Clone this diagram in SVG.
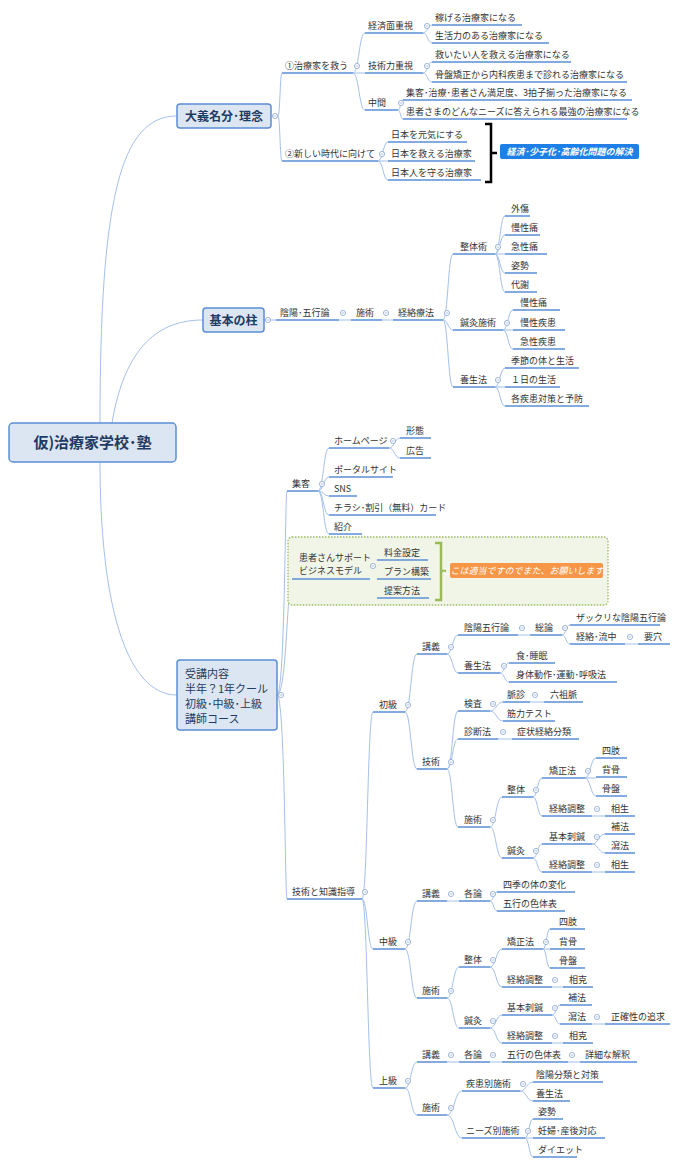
<svg xmlns="http://www.w3.org/2000/svg" xmlns:xlink="http://www.w3.org/1999/xlink" width="680" height="1166" viewBox="0 0 680 1166">
<style>
.t{font-family:"Noto Sans CJK JP","Liberation Sans",sans-serif;font-size:9px;fill:#333}
.u{stroke:#5b8fd6;stroke-width:1.5;fill:none}
.k{stroke:#a4c0ea;stroke-width:1;fill:none}
.box{fill:#dce6f2;stroke:#5b8fd6;stroke-width:1.5}
.bt{font-family:"Noto Sans CJK JP","Liberation Sans",sans-serif;font-weight:bold;fill:#1f3b63}
.lt{font-family:"Noto Sans CJK JP","Liberation Sans",sans-serif;font-size:9px;font-style:italic;font-weight:bold;fill:#fff}
</style>
<defs>
<g id="c"><circle r="2.6" fill="#fff" stroke="#8aa6d6" stroke-width="0.8"/><path d="M-1.4 0H1.4" stroke="#8aa6d6" stroke-width="0.7"/></g>
</defs>
<rect width="680" height="1166" fill="#fff"/>
<g id="connectors">
<path class="k" d="M100 423C100 200 120 116 177 116"/>
<path class="k" d="M112 423C125 345 160 320 203 320"/>
<path class="k" d="M100 462C100 600 125 695 177 695"/>
<path class="k" d="M278 116C280 116 280 73 282 73M278 116C280 116 280 161 282 161"/>
<path class="k" d="M353 73C359 73 359 33 365 33M353 73H365M353 73C359 73 359 110 365 110"/>
<path class="k" d="M423 33C427.5 33 427.5 25 432 25M423 33C427.5 33 427.5 43 432 43M423 73C427.5 73 427.5 62 432 62M423 73C427.5 73 427.5 82 432 82"/>
<path class="k" d="M398 110C400.5 110 400.5 100 403 100M398 110C400.5 110 400.5 119 403 119"/>
<path class="k" d="M378 161C383 161 383 142 388 142M378 161H388M378 161C383 161 383 180 388 180"/>
<path class="k" d="M264 320H276M339 320H351M382 320H393"/>
<path class="k" d="M443 320C448 320 448 254 453 254M443 320C448 320 448 330 453 330M443 320C448 320 448 387 453 387"/>
<path class="k" d="M495 254C500 254 500 216 505 216M495 254C500 254 500 235 505 235M495 254H505M495 254C500 254 500 273 505 273M495 254C500 254 500 292 505 292"/>
<path class="k" d="M503 330C508 330 508 310 513 310M503 330H513M503 330C508 330 508 349 513 349"/>
<path class="k" d="M495 387C500 387 500 368 505 368M495 387H505M495 387C500 387 500 406 505 406"/>
<path class="k" d="M277 695C285 695 285 491 287 491M277 695C287 695 287 579 292 579M277 695C285 695 285 899 287 899"/>
<path class="k" d="M318 491C323.5 491 323.5 448 329 448M318 491C323.5 491 323.5 477 329 477M318 491C323.5 491 323.5 496 329 496M318 491C323.5 491 323.5 515 329 515M318 491C323.5 491 323.5 534 329 534"/>
<path class="k" d="M389 448C394.5 448 394.5 438 400 438M389 448C394.5 448 394.5 458 400 458"/>
<path class="k" d="M370 579C373.5 579 373.5 560 377 560M370 579H377M370 579C373.5 579 373.5 598 377 598"/>
<path class="k" d="M362 899C367.5 899 367.5 712 373 712M362 899C367.5 899 367.5 949 373 949M362 899C367.5 899 367.5 1088 373 1088"/>
<path class="k" d="M405 712C411 712 411 654 417 654M405 712C411 712 411 769 417 769"/>
<path class="k" d="M447 654C452.5 654 452.5 635 458 635M447 654C452.5 654 452.5 673 458 673M518 635H530M562 635C566 635 566 625 570 625M562 635C566 635 566 644 570 644M625 644H638"/>
<path class="k" d="M500 673C504.5 673 504.5 663 509 663M500 673C504.5 673 504.5 682 509 682"/>
<path class="k" d="M447 769C452.5 769 452.5 711 458 711M447 769C452.5 769 452.5 739 458 739M447 769C452.5 769 452.5 827 458 827"/>
<path class="k" d="M490 711C496.5 711 496.5 702 503 702M490 711C496.5 711 496.5 721 503 721M530 702H544M498 739H512"/>
<path class="k" d="M490 827C496 827 496 797 502 797M490 827C496 827 496 858 502 858"/>
<path class="k" d="M533 797C537.5 797 537.5 778 542 778M533 797C537.5 797 537.5 816 542 816M592 816H605"/>
<path class="k" d="M585 778C590.5 778 590.5 758 596 758M585 778H596M585 778C590.5 778 590.5 796 596 796"/>
<path class="k" d="M533 858C537.5 858 537.5 844 542 844M533 858C537.5 858 537.5 872 542 872M592 872H605"/>
<path class="k" d="M592 844C598.5 844 598.5 834 605 834M592 844C598.5 844 598.5 853 605 853"/>
<path class="k" d="M405 949C411 949 411 901 417 901M405 949C411 949 411 998 417 998M447 901H459"/>
<path class="k" d="M490 901C493.5 901 493.5 892 497 892M490 901C493.5 901 493.5 911 497 911"/>
<path class="k" d="M447 998C453 998 453 967 459 967M447 998C453 998 453 1028 459 1028"/>
<path class="k" d="M490 967C496 967 496 949 502 949M490 967C496 967 496 987 502 987M552 987H563"/>
<path class="k" d="M543 949C546.5 949 546.5 929 550 929M543 949H550M543 949C546.5 949 546.5 968 550 968"/>
<path class="k" d="M490 1028C496 1028 496 1015 502 1015M490 1028C496 1028 496 1043 502 1043M552 1043H563"/>
<path class="k" d="M552 1015C556 1015 556 1005 560 1005M552 1015C556 1015 556 1024 560 1024M592 1024H605"/>
<path class="k" d="M405 1088C411 1088 411 1062 417 1062M405 1088C411 1088 411 1115 417 1115M447 1062H459M490 1062H502M568 1062H580"/>
<path class="k" d="M447 1115C454.5 1115 454.5 1091 462 1091M447 1115C454.5 1115 454.5 1138 462 1138"/>
<path class="k" d="M520 1091C526.5 1091 526.5 1082 533 1082M520 1091C526.5 1091 526.5 1101 533 1101"/>
<path class="k" d="M525 1138C529 1138 529 1119 533 1119M525 1138H533M525 1138C529 1138 529 1157 533 1157"/>
</g>

<g id="root"><rect class="box" x="9" y="423" width="167" height="39" rx="4" stroke-width="2"/><text class="bt" x="92.5" y="448" font-size="15" text-anchor="middle">仮)治療家学校･塾</text></g>

<g id="taigi"><rect class="box" x="177" y="104" width="94" height="24" rx="3"/><text class="bt" x="224" y="121" font-size="12" text-anchor="middle">大義名分･理念</text><use xlink:href="#c" x="275" y="116"/></g>
<g id="a1"><text class="t" x="285" y="69">①治療家を救う</text><path class="u" d="M282 73H353"/><use xlink:href="#c" x="357" y="66"/></g>
<g id="a2"><text class="t" x="285" y="157">②新しい時代に向けて</text><path class="u" d="M282 161H378"/><use xlink:href="#c" x="382" y="154"/></g>
<g id="b1"><text class="t" x="368" y="29">経済面重視</text><path class="u" d="M365 33H423"/><use xlink:href="#c" x="427" y="26"/></g>
<g id="b2"><text class="t" x="368" y="69">技術力重視</text><path class="u" d="M365 73H423"/><use xlink:href="#c" x="427" y="66"/></g>
<g id="b3"><text class="t" x="368" y="106">中間</text><path class="u" d="M365 110H398"/><use xlink:href="#c" x="401" y="103"/></g>
<g id="b1a"><text class="t" x="435" y="21">稼げる治療家になる</text><path class="u" d="M432 25H522"/></g>
<g id="b1b"><text class="t" x="435" y="39">生活力のある治療家になる</text><path class="u" d="M432 43H549"/></g>
<g id="b2a"><text class="t" x="435" y="58">救いたい人を救える治療家になる</text><path class="u" d="M432 62H571"/></g>
<g id="b2b"><text class="t" x="435" y="78">骨盤矯正から内科疾患まで診れる治療家になる</text><path class="u" d="M432 82H627"/></g>
<g id="b3a"><text class="t" x="406" y="96">集客･治療･患者さん満足度、3拍子揃った治療家になる</text><path class="u" d="M403 100H632"/></g>
<g id="b3b"><text class="t" x="406" y="115">患者さまのどんなニーズに答えられる最強の治療家になる</text><path class="u" d="M403 119H627"/></g>
<g id="a2a"><text class="t" x="391" y="138">日本を元気にする</text><path class="u" d="M388 142H467"/></g>
<g id="a2b"><text class="t" x="391" y="157">日本を救える治療家</text><path class="u" d="M388 161H475"/></g>
<g id="a2c"><text class="t" x="391" y="176">日本人を守る治療家</text><path class="u" d="M388 180H481"/></g>
<g id="bracket1"><path d="M485 124H491V182H485M491 153H497" stroke="#000" stroke-width="2.5" fill="none"/></g>
<g id="label1"><rect x="500" y="144" width="139" height="15" rx="2" fill="#1e80e6"/><text class="lt" x="569.5" y="155" text-anchor="middle">経済･少子化･高齢化問題の解決</text></g>

<g id="kihon"><rect class="box" x="203" y="308" width="61" height="24" rx="3"/><text class="bt" x="233.5" y="325" font-size="12" text-anchor="middle">基本の柱</text><use xlink:href="#c" x="268" y="320"/></g>
<g id="c1"><text class="t" x="280" y="316">陰陽･五行論</text><path class="u" d="M276 320H339"/><use xlink:href="#c" x="343" y="313"/></g>
<g id="c2"><text class="t" x="356" y="316">施術</text><path class="u" d="M351 320H382"/><use xlink:href="#c" x="386" y="313"/></g>
<g id="c3"><text class="t" x="398" y="316">経絡療法</text><path class="u" d="M393 320H443"/><use xlink:href="#c" x="447" y="313"/></g>
<g id="c3a"><text class="t" x="460" y="250">整体術</text><path class="u" d="M453 254H495"/><use xlink:href="#c" x="498" y="247"/></g>
<g id="c3b"><text class="t" x="460" y="326">鍼灸施術</text><path class="u" d="M453 330H503"/><use xlink:href="#c" x="507" y="323"/></g>
<g id="c3c"><text class="t" x="460" y="383">養生法</text><path class="u" d="M453 387H495"/><use xlink:href="#c" x="498" y="380"/></g>
<g id="s1"><text class="t" x="511" y="212">外傷</text><path class="u" d="M505 216H530"/></g>
<g id="s2"><text class="t" x="511" y="231">慢性痛</text><path class="u" d="M505 235H540"/></g>
<g id="s3"><text class="t" x="511" y="250">急性痛</text><path class="u" d="M505 254H547"/></g>
<g id="s4"><text class="t" x="511" y="269">姿勢</text><path class="u" d="M505 273H537"/></g>
<g id="s5"><text class="t" x="511" y="288">代謝</text><path class="u" d="M505 292H537"/></g>
<g id="h1"><text class="t" x="520" y="306">慢性痛</text><path class="u" d="M513 310H560"/></g>
<g id="h2"><text class="t" x="520" y="326">慢性疾患</text><path class="u" d="M513 330H565"/></g>
<g id="h3"><text class="t" x="520" y="345">急性疾患</text><path class="u" d="M513 349H565"/></g>
<g id="y1"><text class="t" x="511" y="364">季節の体と生活</text><path class="u" d="M505 368H579"/></g>
<g id="y2"><text class="t" x="511" y="383">１日の生活</text><path class="u" d="M505 387H560"/></g>
<g id="y3"><text class="t" x="511" y="402">各疾患対策と予防</text><path class="u" d="M505 406H589"/></g>

<g id="juko"><rect class="box" x="177" y="660" width="100" height="70" rx="3"/><text class="t" font-size="11" fill="#1f3b63" style="font-size:11px;fill:#1f3b63"><tspan x="185" y="678">受講内容</tspan><tspan x="185" y="693">半年？1年クール</tspan><tspan x="185" y="708">初級･中級･上級</tspan><tspan x="185" y="723">講師コース</tspan></text><use xlink:href="#c" x="281" y="695"/></g>
<g id="d1"><text class="t" x="292" y="487">集客</text><path class="u" d="M287 491H318"/><use xlink:href="#c" x="322" y="484"/></g>
<g id="d1a"><text class="t" x="334" y="444">ホームページ</text><path class="u" d="M329 448H389"/><use xlink:href="#c" x="393" y="441"/></g>
<g id="d1b"><text class="t" x="334" y="473">ポータルサイト</text><path class="u" d="M329 477H393"/></g>
<g id="d1c"><text class="t" x="334" y="492">SNS</text><path class="u" d="M329 496H357"/></g>
<g id="d1d"><text class="t" x="334" y="511">チラシ･割引（無料）カード</text><path class="u" d="M329 515H436"/></g>
<g id="d1e"><text class="t" x="334" y="530">紹介</text><path class="u" d="M329 534H362"/></g>
<g id="d1a1"><text class="t" x="406" y="434">形態</text><path class="u" d="M400 438H431"/></g>
<g id="d1a2"><text class="t" x="406" y="454">広告</text><path class="u" d="M400 458H431"/></g>
<g id="greenbox"><rect x="288" y="537" width="320" height="68" rx="4" fill="#f1f5e8" stroke="#9bbb59" stroke-width="1.3" stroke-dasharray="1.5 1.5"/></g>
<g id="d2"><text class="t"><tspan x="299" y="561">患者さんサポート</tspan><tspan x="299" y="574">ビジネスモデル</tspan></text><path class="u" d="M292 579H370"/><use xlink:href="#c" x="373" y="566"/></g>
<g id="d2a"><text class="t" x="384" y="556">料金設定</text><path class="u" d="M377 560H428"/></g>
<g id="d2b"><text class="t" x="384" y="575">プラン構築</text><path class="u" d="M377 579H431"/></g>
<g id="d2c"><text class="t" x="384" y="594">提案方法</text><path class="u" d="M377 598H429"/></g>
<g id="bracket2"><path d="M435 543H441V600H435M441 571H446" stroke="#9bbb59" stroke-width="2.5" fill="none"/></g>
<g id="label2"><rect x="450" y="563" width="153" height="15" rx="2" fill="#f79646"/><text class="lt" x="526.5" y="574" text-anchor="middle" font-weight="normal" style="font-weight:normal">ここは適当ですのでまた、お願いします。</text></g>
<g id="d3"><text class="t" x="292" y="895">技術と知識指導</text><path class="u" d="M287 899H362"/><use xlink:href="#c" x="365" y="892"/></g>

<g id="e1"><text class="t" x="379" y="708">初級</text><path class="u" d="M373 712H405"/><use xlink:href="#c" x="408" y="705"/></g>
<g id="e1a"><text class="t" x="422" y="650">講義</text><path class="u" d="M417 654H447"/><use xlink:href="#c" x="451" y="647"/></g>
<g id="e1a1"><text class="t" x="464" y="631">陰陽五行論</text><path class="u" d="M458 635H518"/><use xlink:href="#c" x="522" y="628"/></g>
<g id="e1a1a"><text class="t" x="535" y="631">総論</text><path class="u" d="M530 635H562"/><use xlink:href="#c" x="565" y="628"/></g>
<g id="e1a1a1"><text class="t" x="576" y="621">ザックリな陰陽五行論</text><path class="u" d="M570 625H660"/></g>
<g id="e1a1a2"><text class="t" x="576" y="640">経絡･流中</text><path class="u" d="M570 644H625"/><use xlink:href="#c" x="630" y="637"/></g>
<g id="e1a1a2a"><text class="t" x="644" y="640">要穴</text><path class="u" d="M638 644H670"/></g>
<g id="e1a2"><text class="t" x="464" y="669">養生法</text><path class="u" d="M458 673H500"/><use xlink:href="#c" x="504" y="666"/></g>
<g id="e1a2a"><text class="t" x="516" y="659">食･睡眠</text><path class="u" d="M509 663H555"/></g>
<g id="e1a2b"><text class="t" x="516" y="678">身体動作･運動･呼吸法</text><path class="u" d="M509 682H617"/></g>
<g id="e1b"><text class="t" x="422" y="765">技術</text><path class="u" d="M417 769H447"/><use xlink:href="#c" x="451" y="762"/></g>
<g id="e1b1"><text class="t" x="464" y="707">検査</text><path class="u" d="M458 711H490"/><use xlink:href="#c" x="493" y="704"/></g>
<g id="e1b1a"><text class="t" x="507" y="698">脈診</text><path class="u" d="M503 702H530"/><use xlink:href="#c" x="535" y="695"/></g>
<g id="e1b1a1"><text class="t" x="550" y="698">六祖脈</text><path class="u" d="M544 702H583"/></g>
<g id="e1b1b"><text class="t" x="507" y="717">筋力テスト</text><path class="u" d="M503 721H555"/></g>
<g id="e1b2"><text class="t" x="464" y="735">診断法</text><path class="u" d="M458 739H498"/><use xlink:href="#c" x="503" y="732"/></g>
<g id="e1b2a"><text class="t" x="517" y="735">症状経絡分類</text><path class="u" d="M512 739H579"/></g>
<g id="e1b3"><text class="t" x="464" y="823">施術</text><path class="u" d="M458 827H490"/><use xlink:href="#c" x="493" y="820"/></g>
<g id="e1b3a"><text class="t" x="507" y="793">整体</text><path class="u" d="M502 797H533"/><use xlink:href="#c" x="536" y="790"/></g>
<g id="e1b3a1"><text class="t" x="549" y="774">矯正法</text><path class="u" d="M542 778H585"/><use xlink:href="#c" x="588" y="771"/></g>
<g id="e1b3a1a"><text class="t" x="602" y="754">四肢</text><path class="u" d="M596 758H627"/></g>
<g id="e1b3a1b"><text class="t" x="602" y="773">背骨</text><path class="u" d="M596 777H627"/></g>
<g id="e1b3a1c"><text class="t" x="602" y="792">骨盤</text><path class="u" d="M596 796H627"/></g>
<g id="e1b3a2"><text class="t" x="549" y="812">経絡調整</text><path class="u" d="M542 816H592"/><use xlink:href="#c" x="597" y="809"/></g>
<g id="e1b3a2a"><text class="t" x="611" y="812">相生</text><path class="u" d="M605 816H635"/></g>
<g id="e1b3b"><text class="t" x="507" y="854">鍼灸</text><path class="u" d="M502 858H533"/><use xlink:href="#c" x="536" y="851"/></g>
<g id="e1b3b1"><text class="t" x="549" y="840">基本刺鍼</text><path class="u" d="M542 844H592"/><use xlink:href="#c" x="597" y="837"/></g>
<g id="e1b3b1a"><text class="t" x="611" y="830">補法</text><path class="u" d="M605 834H635"/></g>
<g id="e1b3b1b"><text class="t" x="611" y="849">瀉法</text><path class="u" d="M605 853H635"/></g>
<g id="e1b3b2"><text class="t" x="549" y="868">経絡調整</text><path class="u" d="M542 872H592"/><use xlink:href="#c" x="597" y="865"/></g>
<g id="e1b3b2a"><text class="t" x="611" y="868">相生</text><path class="u" d="M605 872H635"/></g>

<g id="e2"><text class="t" x="379" y="945">中級</text><path class="u" d="M373 949H405"/><use xlink:href="#c" x="408" y="942"/></g>
<g id="e2a"><text class="t" x="422" y="897">講義</text><path class="u" d="M417 901H447"/><use xlink:href="#c" x="451" y="894"/></g>
<g id="e2a1"><text class="t" x="464" y="897">各論</text><path class="u" d="M459 901H490"/><use xlink:href="#c" x="493" y="894"/></g>
<g id="e2a1a"><text class="t" x="503" y="888">四季の体の変化</text><path class="u" d="M497 892H575"/></g>
<g id="e2a1b"><text class="t" x="503" y="907">五行の色体表</text><path class="u" d="M497 911H565"/></g>
<g id="e2b"><text class="t" x="422" y="994">施術</text><path class="u" d="M417 998H447"/><use xlink:href="#c" x="451" y="991"/></g>
<g id="e2b1"><text class="t" x="464" y="963">整体</text><path class="u" d="M459 967H490"/><use xlink:href="#c" x="493" y="960"/></g>
<g id="e2b1a"><text class="t" x="507" y="945">矯正法</text><path class="u" d="M502 949H543"/><use xlink:href="#c" x="546" y="942"/></g>
<g id="e2b1a1"><text class="t" x="559" y="925">四肢</text><path class="u" d="M550 929H585"/></g>
<g id="e2b1a2"><text class="t" x="559" y="945">背骨</text><path class="u" d="M550 949H585"/></g>
<g id="e2b1a3"><text class="t" x="559" y="964">骨盤</text><path class="u" d="M550 968H585"/></g>
<g id="e2b1b"><text class="t" x="507" y="983">経絡調整</text><path class="u" d="M502 987H552"/><use xlink:href="#c" x="555" y="980"/></g>
<g id="e2b1b1"><text class="t" x="569" y="983">相克</text><path class="u" d="M563 987H593"/></g>
<g id="e2b2"><text class="t" x="464" y="1024">鍼灸</text><path class="u" d="M459 1028H490"/><use xlink:href="#c" x="493" y="1021"/></g>
<g id="e2b2a"><text class="t" x="507" y="1011">基本刺鍼</text><path class="u" d="M502 1015H552"/><use xlink:href="#c" x="555" y="1008"/></g>
<g id="e2b2a1"><text class="t" x="568" y="1001">補法</text><path class="u" d="M560 1005H592"/></g>
<g id="e2b2a2"><text class="t" x="568" y="1020">瀉法</text><path class="u" d="M560 1024H592"/><use xlink:href="#c" x="597" y="1017"/></g>
<g id="e2b2a2a"><text class="t" x="611" y="1020">正確性の追求</text><path class="u" d="M605 1024H670"/></g>
<g id="e2b2b"><text class="t" x="507" y="1039">経絡調整</text><path class="u" d="M502 1043H552"/><use xlink:href="#c" x="555" y="1036"/></g>
<g id="e2b2b1"><text class="t" x="569" y="1039">相克</text><path class="u" d="M563 1043H593"/></g>

<g id="e3"><text class="t" x="379" y="1084">上級</text><path class="u" d="M373 1088H405"/><use xlink:href="#c" x="408" y="1081"/></g>
<g id="e3a"><text class="t" x="422" y="1058">講義</text><path class="u" d="M417 1062H447"/><use xlink:href="#c" x="451" y="1055"/></g>
<g id="e3a1"><text class="t" x="464" y="1058">各論</text><path class="u" d="M459 1062H490"/><use xlink:href="#c" x="493" y="1055"/></g>
<g id="e3a1a"><text class="t" x="507" y="1058">五行の色体表</text><path class="u" d="M502 1062H568"/><use xlink:href="#c" x="572" y="1055"/></g>
<g id="e3a1a1"><text class="t" x="585" y="1058">詳細な解釈</text><path class="u" d="M580 1062H637"/></g>
<g id="e3b"><text class="t" x="422" y="1111">施術</text><path class="u" d="M417 1115H447"/><use xlink:href="#c" x="451" y="1108"/></g>
<g id="e3b1"><text class="t" x="466" y="1087">疾患別施術</text><path class="u" d="M462 1091H520"/><use xlink:href="#c" x="523" y="1084"/></g>
<g id="e3b1a"><text class="t" x="536" y="1078">陰陽分類と対策</text><path class="u" d="M533 1082H603"/></g>
<g id="e3b1b"><text class="t" x="536" y="1097">養生法</text><path class="u" d="M533 1101H570"/></g>
<g id="e3b2"><text class="t" x="466" y="1134">ニーズ別施術</text><path class="u" d="M462 1138H525"/><use xlink:href="#c" x="528" y="1131"/></g>
<g id="e3b2a"><text class="t" x="538" y="1115">姿勢</text><path class="u" d="M533 1119H563"/></g>
<g id="e3b2b"><text class="t" x="538" y="1134">妊婦･産後対応</text><path class="u" d="M533 1138H605"/></g>
<g id="e3b2c"><text class="t" x="538" y="1153">ダイエット</text><path class="u" d="M533 1157H577"/></g>
</svg>
